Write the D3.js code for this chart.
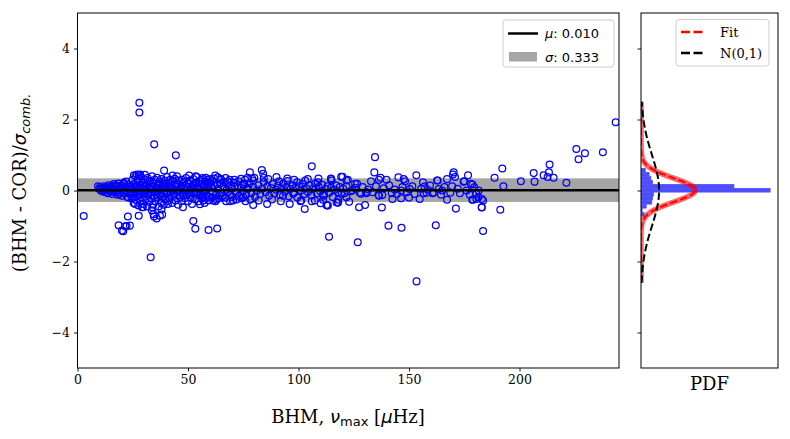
<!DOCTYPE html>
<html>
<head>
<meta charset="utf-8">
<script src="https://cdn.jsdelivr.net/npm/d3@7"></script>
<style>
  body { margin: 0; background: #fff; }
  svg { display: block; }
</style>
</head>
<body>
<div id="chart"></div>
<script>
// Fit results
const muFit = 0.010;
const sigmaFit = 0.333;

// Tick values
const xTicks = [0, 50, 100, 150, 200];
const yTicks = [-4, -2, 0, 2, 4];

// Histogram of the residuals (bin edges and density)
const histEdges = [-0.726, -0.613, -0.5, -0.387, -0.274, -0.161, -0.048, 0.065, 0.178, 0.291, 0.404, 0.517, 0.63];
const histDensity = [0.07, 0.03, 0.12, 0.24, 0.26, 0.28, 2.85, 2.05, 0.26, 0.22, 0.18, 0.1];

// Range over which the pdf curves are drawn
const curveRange = [-2.6, 2.5];

// [nu_max, (BHM - COR)/sigma]
const points = [
  [2.8,-0.72],[28.0,2.47],[28.0,2.2],[34.7,1.3],[44.5,0.99],[33.1,-1.88],
  [18.6,-0.98],[20.1,-1.13],[20.7,-1.15],[21.6,-1.01],[23.7,-0.99],[22.8,-0.73],[22.2,-1.0],
  [34.6,-0.73],[35.8,-0.79],[37.3,-0.71],[34.4,-0.67],[38.3,-0.68],[27.7,-0.71],
  [52.4,-0.86],[53.3,-1.08],[59.3,-1.11],[63.2,-1.07],
  [39.2,0.56],[27.7,0.43],[25.5,0.43],[26.9,0.45],[28.4,0.45],[30.5,0.44],[45.0,0.4],[43.0,0.42],
  [50.5,0.42],[53.5,0.4],
  [26.0,-0.38],[29.2,-0.47],[33.7,-0.56],[38.0,-0.53],[41.0,-0.38],[47.7,-0.47],[29.6,-0.47],
  [33.8,-0.47],[55.4,-0.39],[25.2,-0.19],
  // dense start of the cloud
  [9.3,0.12],[9.8,0.05],[10.2,0.1],[10.5,0.0],[11.0,0.08],[11.4,-0.03],[11.8,0.12],[12.2,0.04],
  [12.6,-0.05],[13.0,0.1],[13.3,0.02],[13.8,-0.08],[14.1,0.15],[14.5,0.06],[14.9,-0.02],[15.3,0.12],
  [15.7,-0.1],[16.1,0.05],[16.5,0.18],[16.9,-0.05],[17.3,0.1],[17.7,0.0],[18.1,-0.12],[18.5,0.2],
  [18.9,0.07],[19.3,-0.04],[19.7,0.14],[20.1,-0.15],[20.5,0.03],[20.9,0.22],[21.3,-0.08],[21.7,0.1],
  [22.1,0.0],[22.5,-0.18],[22.9,0.16],[23.3,0.05],[23.7,-0.1],[12.0,0.0],[15.0,0.03],[17.0,0.15],
  [19.0,-0.1],[21.0,0.18],[23.0,-0.2],[16.0,-0.03],[18.0,0.12],[20.0,0.08],[22.0,0.25],[24.0,0.1],[24.0,-0.05],
  [24.2,0.12],[24.5,-0.22],[24.8,0.3],[25.1,0.02],[25.4,-0.35],[25.6,0.18],[25.9,-0.08],[26.2,0.4],
  [26.4,-0.27],[26.7,0.08],[27.0,-0.15],[27.2,0.25],[27.5,-0.42],[27.7,0.33],[28.0,-0.02],[28.2,0.15],
  [28.5,-0.3],[28.7,0.38],[29.0,0.05],[29.2,-0.2],[29.5,0.22],[29.7,-0.38],[30.0,0.1],[30.2,-0.1],
  [30.5,0.3],[30.7,-0.25],[31.0,0.0],[31.2,0.18],[31.5,-0.45],[31.7,0.35],[32.0,-0.12],[32.2,0.06],
  [32.5,-0.32],[32.7,0.27],[33.0,0.12],[33.2,-0.05],[33.5,-0.22],[33.7,0.4],[34.0,0.02],[34.2,-0.4],
  [34.5,0.2],[34.7,-0.15],[35.0,0.3],[35.2,-0.3],[35.5,0.08],[35.7,-0.02],[36.0,0.36],[36.2,-0.2],
  [36.5,0.14],[36.7,-0.45],[37.0,0.25],[37.2,-0.08],[37.5,0.04],[37.7,-0.33],[38.0,0.32],[38.2,0.1],
  [38.5,-0.18],[38.7,0.2],[39.0,-0.4],[39.2,0.0],[39.5,0.28],[39.7,-0.25],[40.0,0.12],[40.2,-0.1],
  [40.5,0.38],[40.7,-0.3],[41.0,0.05],[41.3,0.22],[41.6,-0.2],[41.9,0.3],[42.2,-0.05],[42.5,0.15],
  [42.8,-0.35],[43.1,0.26],[43.4,0.0],[43.7,-0.15],[44.0,0.33],[44.3,-0.28],[44.6,0.1],[44.9,-0.05],
  [45.2,0.2],[45.5,-0.4],[45.8,0.28],[46.1,0.02],[46.4,-0.18],[46.7,0.14],[47.0,-0.3],[47.3,0.3],
  [47.6,-0.08],[47.9,0.06],[48.2,0.24],[48.5,-0.22],[48.8,0.0],[49.1,0.35],[49.4,-0.12],[49.7,0.1],
  [50.0,-0.3],[50.3,0.2],[50.6,-0.02],[50.9,0.28],[51.2,-0.2],[51.5,0.06],[51.8,-0.38],[52.1,0.15],
  [52.4,0.32],[52.7,-0.1],[53.0,0.02],[53.3,-0.25],[53.6,0.22],[53.9,0.38],[54.2,-0.05],[54.5,0.1],
  [54.8,-0.3],[55.1,0.27],[55.4,-0.15],[55.7,0.04],[56.0,0.18],[56.3,-0.22],[56.6,0.35],[56.9,-0.08],
  [57.2,0.12],[57.5,-0.35],[57.8,0.25],[58.1,0.0],[58.4,-0.15],[58.7,0.3],[59.0,0.08],[59.3,-0.28],
  [59.6,0.2],[59.9,-0.05],
  [24.8,0.05],[25.8,-0.03],[26.9,0.12],[27.8,-0.1],[28.8,0.07],[29.8,-0.05],[30.8,0.13],[31.8,-0.08],
  [32.8,0.03],[33.8,0.1],[34.8,-0.06],[35.8,0.15],[36.8,0.01],[37.8,-0.12],[38.8,0.06],[39.8,0.17],
  [40.8,-0.04],[41.8,0.1],[42.8,0.04],[43.8,-0.09],[44.8,0.12],[45.8,-0.02],[46.8,0.08],[47.8,-0.14],
  [48.8,0.13],[49.8,0.03],[50.8,-0.08],[51.8,0.1],[52.8,0.18],[53.8,-0.04],[54.8,0.06],[55.8,-0.1],
  [56.8,0.1],[57.8,-0.02],[58.8,0.14],
  [56.2,0.3],[57.0,-0.28],[58.0,0.36],[59.5,-0.18],[60.2,0.22],[60.8,-0.2],[61.8,0.34],[62.4,-0.3],
  [63.2,0.18],[64.0,-0.22],[64.8,0.32],[65.6,-0.16],[66.4,0.24],[67.2,-0.3],[68.0,-0.05],[68.8,0.3],
  [70.0,-0.18],[71.2,0.12],[72.8,0.26],[74.2,-0.22],[75.8,0.3],[76.8,0.08],[78.2,-0.25],[79.0,0.34],
  // middle part
  [78.0,0.51],[83.4,0.58],[84.0,0.47],[84.3,0.36],[106.0,0.68],[102.8,-0.52],[113.8,-1.3],
  [79.5,-0.41],[85.8,-0.38],[100.9,-0.3],[112.7,-0.41],[117.2,-0.34],
  [62.3,0.42],[63.5,0.37],[59.9,0.32],[68.0,0.25],[75.0,0.19],[79.5,0.28],[86.3,0.32],[91.2,0.26],
  [94.9,0.34],[99.4,0.23],[104.2,0.32],[108.7,0.23],[114.7,0.34],[119.3,0.39],[121.7,0.28],
  [101.2,-0.28],[107.4,-0.28],[70.4,-0.28],[61.4,-0.28],[75.0,-0.19],[93.0,-0.15],[97.6,-0.09],
  [111.1,-0.13],[121.7,-0.19],[64.4,-0.13],[56.9,-0.19],[112.9,-0.42],[117.8,-0.34],
  [60.5,0.1],[61.2,-0.05],[62.0,0.15],[62.8,-0.12],[63.6,0.05],[64.5,0.2],[65.2,-0.08],[66.0,0.1],
  [66.8,-0.2],[67.5,0.02],[68.3,0.14],[69.1,-0.1],[69.9,0.06],[70.7,0.22],[71.5,-0.04],[72.3,0.12],
  [73.1,-0.15],[73.9,0.08],[74.7,-0.02],[75.5,0.16],[76.3,-0.12],[77.1,0.04],[77.9,0.2],[78.7,-0.06],
  [79.5,0.1],[80.3,-0.18],[81.1,0.0],[81.9,0.15],[82.7,-0.1],[83.5,0.05],[84.3,0.24],[85.1,-0.05],
  [85.9,0.12],[86.7,-0.15],[87.5,0.07],[88.3,0.18],[89.1,-0.08],[89.9,0.02],[90.7,0.14],[91.5,-0.12],
  [92.3,0.06],[93.1,0.2],[93.9,-0.03],[94.7,0.1],[95.5,-0.16],[96.3,0.04],[97.1,0.15],[97.9,-0.06],
  [98.7,0.08],[99.5,-0.2],[100.3,0.12],[101.1,0.0],[101.9,0.18],[102.7,-0.1],[103.5,0.06],[104.3,-0.04],
  [105.1,0.14],[105.9,-0.14],[106.7,0.05],[107.5,0.2],[108.3,-0.08],[109.1,0.1],[109.9,-0.02],[110.7,0.16],
  [111.5,-0.12],[112.3,0.04],[113.1,0.12],[113.9,-0.06],[114.7,0.08],[115.5,-0.18],[116.3,0.02],[117.1,0.14],
  [117.9,-0.05],[118.7,0.1],[119.5,-0.1],
  [61.0,0.28],[63.0,-0.25],[65.0,0.3],[67.0,0.35],[69.0,-0.3],[71.0,0.3],[72.0,-0.25],[74.0,0.33],
  [76.0,-0.3],[77.0,0.36],[80.0,0.36],[82.0,-0.28],[88.0,-0.25],[90.0,0.38],[92.0,-0.3],[95.0,0.27],
  [96.0,-0.38],[98.0,0.3],[103.0,0.28],[106.0,-0.3],[109.0,0.34],[110.0,-0.36],[115.0,0.28],[118.0,-0.26],
  // right part
  [126.8,-1.46],[134.6,0.94],[153.4,-2.56],[140.7,-0.99],[146.6,-1.05],[162.1,-0.98],[183.5,-1.14],
  [182.9,-0.48],[191.3,-0.54],[192.2,0.62],[188.7,0.36],[192.7,0.12],[200.6,0.26],[206.4,0.49],
  [206.8,0.25],[210.9,0.43],[213.6,0.73],[213.3,0.51],[212.7,0.38],[215.4,0.36],[221.2,0.22],
  [225.7,1.17],[226.7,0.88],[229.6,1.05],[237.7,1.08],[243.5,1.92],
  [113.3,-0.42],[117.9,-0.34],[122.9,-0.32],[127.4,-0.47],[130.1,-0.41],[137.7,-0.48],[142.5,-0.24],
  [146.4,-0.22],[150.0,-0.2],[154.8,-0.24],[171.2,-0.51],[167.2,-0.26],[178.9,-0.26],[182.9,-0.24],
  [134.3,0.51],[153.3,0.43],[170.2,0.51],[169.9,0.45],[170.8,0.38],[176.7,0.43],[174.7,0.25],
  [163.0,0.28],[167.2,0.32],[145.2,0.37],[147.6,0.32],[137.1,0.36],[139.8,0.3],[114.7,0.32],
  [119.9,0.39],[122.3,0.3],[126.5,0.19],[132.8,0.26],[156.3,0.23],[157.0,0.11],[178.0,0.19],
  [179.5,0.09],[180.4,-0.09],[181.4,-0.19],[178.6,-0.26],[142.2,-0.08],[146.4,0.0],[150.3,0.04],
  [156.6,-0.08],[161.2,-0.06],[165.0,0.0],[168.7,-0.06],[136.4,-0.15],[137.9,-0.13],[128.3,-0.09],
  [130.7,-0.04],[124.4,0.0],[120.8,-0.08],[111.4,-0.15],[111.1,-0.26],
  [125.6,0.19],[121.7,0.11],[136.4,0.3],[148.2,0.26],[162.7,0.28],[175.0,0.26],[178.7,0.17],
  [127.7,-0.06],[130.7,-0.08],[136.2,-0.13],[157.9,-0.06],[160.6,-0.08],[180.5,-0.24],[182.9,-0.47],
  [120.2,0.05],[123.5,-0.02],[125.5,0.08],[129.0,0.1],[131.5,0.03],[133.5,-0.05],[135.0,0.12],
  [138.5,0.06],[141.0,0.15],[143.5,0.03],[144.5,-0.1],[147.0,0.1],[149.0,-0.05],[151.5,0.12],
  [152.5,-0.1],[155.5,0.05],[158.5,0.02],[159.5,0.14],[163.5,0.04],[164.5,-0.12],[166.0,0.1],
  [169.5,0.12],[172.0,0.05],[173.0,-0.08],[176.0,0.0],[177.5,-0.12],[181.5,0.0],[183.5,-0.28]
];

const W = 790, H = 439;
const main = { left: 77.5, right: 619, top: 13, bottom: 368 };
const side = { left: 641, right: 778, top: 13, bottom: 368 };
const serif = "'DejaVu Serif', serif";
const sans = "'DejaVu Sans', sans-serif";

const svg = d3.select("#chart").append("svg")
  .attr("width", W).attr("height", H)
  .attr("viewBox", `0 0 ${W} ${H}`);

const x = d3.scaleLinear().domain([0, 245]).range([main.left, main.right]);
const y = d3.scaleLinear().domain([-5, 5]).range([main.bottom, main.top]);
const px = d3.scaleLinear().domain([0, 3.02]).range([side.left, side.right]);

const defs = svg.append("defs");
defs.append("clipPath").attr("id", "clipMain").append("rect")
  .attr("x", main.left).attr("y", main.top)
  .attr("width", main.right - main.left).attr("height", main.bottom - main.top);
defs.append("clipPath").attr("id", "clipSide").append("rect")
  .attr("x", side.left).attr("y", side.top)
  .attr("width", side.right - side.left).attr("height", side.bottom - side.top);

// ---- main panel ----
const gMain = svg.append("g").attr("clip-path", "url(#clipMain)");

// sigma band
gMain.append("rect")
  .attr("x", main.left).attr("width", main.right - main.left)
  .attr("y", y(muFit + sigmaFit))
  .attr("height", y(muFit - sigmaFit) - y(muFit + sigmaFit))
  .attr("fill", "#a6a6a6");

// points
gMain.selectAll("circle.pt")
  .data(points)
  .enter().append("circle")
  .attr("class", "pt")
  .attr("cx", d => x(d[0]))
  .attr("cy", d => y(d[1]))
  .attr("r", 3.4)
  .attr("fill", "none")
  .attr("stroke", "#0000ff")
  .attr("stroke-width", 1.25);

// mean line
gMain.append("line")
  .attr("x1", main.left).attr("x2", main.right)
  .attr("y1", y(muFit)).attr("y2", y(muFit))
  .attr("stroke", "#000").attr("stroke-width", 2.5);

// axes
const xAxis = svg.append("g")
  .attr("transform", `translate(0,${main.bottom})`)
  .call(d3.axisBottom(x).tickValues(xTicks).tickSize(3.5).tickPadding(4).tickFormat(d3.format("d")));
const yAxis = svg.append("g")
  .attr("transform", `translate(${main.left},0)`)
  .call(d3.axisLeft(y).tickValues(yTicks).tickSize(3.5).tickPadding(4)
    .tickFormat(d => d < 0 ? "\u2212" + Math.abs(d) : d));
[xAxis, yAxis].forEach(a => {
  a.select(".domain").remove();
  a.selectAll("text").attr("font-family", serif).attr("font-size", 12.5).attr("fill", "#000");
  a.selectAll("line").attr("stroke", "#000").attr("stroke-width", 0.9);
});

svg.append("rect")
  .attr("x", main.left).attr("y", main.top)
  .attr("width", main.right - main.left).attr("height", main.bottom - main.top)
  .attr("fill", "none").attr("stroke", "#000").attr("stroke-width", 1);

// main legend
const lg = svg.append("g").attr("transform", "translate(503,20)");
lg.append("rect").attr("width", 111).attr("height", 47).attr("rx", 3)
  .attr("fill", "#fff").attr("fill-opacity", 0.8).attr("stroke", "#cccccc");
lg.append("line").attr("x1", 5).attr("x2", 35).attr("y1", 13.5).attr("y2", 13.5)
  .attr("stroke", "#000").attr("stroke-width", 2.5);
lg.append("rect").attr("x", 6).attr("y", 32).attr("width", 28).attr("height", 9.5).attr("fill", "#a6a6a6");
const lt1 = lg.append("text").attr("x", 42).attr("y", 18).attr("font-family", sans).attr("font-size", 13);
lt1.append("tspan").attr("font-style", "italic").text("\u03bc");
lt1.append("tspan").text(": " + muFit.toFixed(3));
const lt2 = lg.append("text").attr("x", 42).attr("y", 41.5).attr("font-family", sans).attr("font-size", 13);
lt2.append("tspan").attr("font-style", "italic").text("\u03c3");
lt2.append("tspan").text(": " + sigmaFit.toFixed(3));

// axis labels
const yl = svg.append("text")
  .attr("transform", `translate(26,183) rotate(-90)`)
  .attr("text-anchor", "middle")
  .attr("font-family", serif).attr("font-size", 18);
yl.append("tspan").text("(BHM - COR)/");
yl.append("tspan").attr("font-family", sans).attr("font-style", "italic").text("\u03c3");
yl.append("tspan").attr("font-family", sans).attr("font-style", "italic").attr("font-size", 13)
  .attr("dy", 4).text("comb.");

const xl = svg.append("text")
  .attr("x", 348).attr("y", 423)
  .attr("text-anchor", "middle")
  .attr("font-family", serif).attr("font-size", 18);
xl.append("tspan").text("BHM, ");
xl.append("tspan").attr("font-family", sans).attr("font-style", "italic").text("\u03bd");
xl.append("tspan").attr("font-family", sans).attr("font-size", 13).attr("dy", 3).text("max");
xl.append("tspan").attr("dy", -3).text(" [");
xl.append("tspan").attr("font-family", sans).attr("font-style", "italic").text("\u03bc");
xl.append("tspan").text("Hz]");

// ---- side panel (pdf) ----
const gSide = svg.append("g").attr("clip-path", "url(#clipSide)");

const bins = histDensity.map((v, i) => ({ y0: histEdges[i], y1: histEdges[i + 1], v }));
gSide.selectAll("rect.bin")
  .data(bins)
  .enter().append("rect")
  .attr("class", "bin")
  .attr("x", px(0))
  .attr("y", d => y(d.y1))
  .attr("width", d => px(d.v) - px(0))
  .attr("height", d => y(d.y0) - y(d.y1))
  .attr("fill", "#4d4dff")
  .attr("stroke", "#4d4dff")
  .attr("stroke-width", 0.4);

const gauss = (v, m, s) => Math.exp(-0.5 * ((v - m) / s) ** 2) / (s * Math.sqrt(2 * Math.PI));
const ys = d3.range(curveRange[0], curveRange[1] + 0.001, 0.01);
const pdfLine = (m, s) => d3.line()
  .x(v => px(gauss(v, m, s)))
  .y(v => y(v))(ys);

gSide.append("path").attr("d", pdfLine(muFit, sigmaFit))
  .attr("fill", "none").attr("stroke", "#ff0000").attr("stroke-opacity", 0.6).attr("stroke-width", 5.5);
gSide.append("path").attr("d", pdfLine(muFit, sigmaFit))
  .attr("fill", "none").attr("stroke", "#ff0000").attr("stroke-width", 2)
  .attr("stroke-dasharray", "7.4,3.2");
gSide.append("path").attr("d", pdfLine(0, 1))
  .attr("fill", "none").attr("stroke", "#000").attr("stroke-width", 2)
  .attr("stroke-dasharray", "7.4,3.2");

const sAxis = svg.append("g")
  .attr("transform", `translate(${side.left},0)`)
  .call(d3.axisLeft(y).tickValues(yTicks).tickSize(3.5).tickFormat(""));
sAxis.select(".domain").remove();
sAxis.selectAll("line").attr("stroke", "#000").attr("stroke-width", 0.9);

svg.append("rect")
  .attr("x", side.left).attr("y", side.top)
  .attr("width", side.right - side.left).attr("height", side.bottom - side.top)
  .attr("fill", "none").attr("stroke", "#000").attr("stroke-width", 1);

svg.append("text")
  .attr("x", (side.left + side.right) / 2).attr("y", 390)
  .attr("text-anchor", "middle")
  .attr("font-family", serif).attr("font-size", 18)
  .text("PDF");

// side legend
const sl = svg.append("g").attr("transform", "translate(676,19.5)");
sl.append("rect").attr("width", 93).attr("height", 46.5).attr("rx", 3)
  .attr("fill", "#fff").attr("fill-opacity", 0.8).attr("stroke", "#cccccc");
sl.append("line").attr("x1", 5).attr("x2", 30).attr("y1", 12.5).attr("y2", 12.5)
  .attr("stroke", "#ff0000").attr("stroke-width", 2.5).attr("stroke-dasharray", "9,3.5");
sl.append("line").attr("x1", 5).attr("x2", 30).attr("y1", 33.5).attr("y2", 33.5)
  .attr("stroke", "#000").attr("stroke-width", 2.5).attr("stroke-dasharray", "9,3.5");
sl.append("text").attr("x", 44).attr("y", 17).attr("font-family", serif).attr("font-size", 13).text("Fit");
sl.append("text").attr("x", 44).attr("y", 38).attr("font-family", serif).attr("font-size", 13).text("N(0,1)");
</script>
</body>
</html>
